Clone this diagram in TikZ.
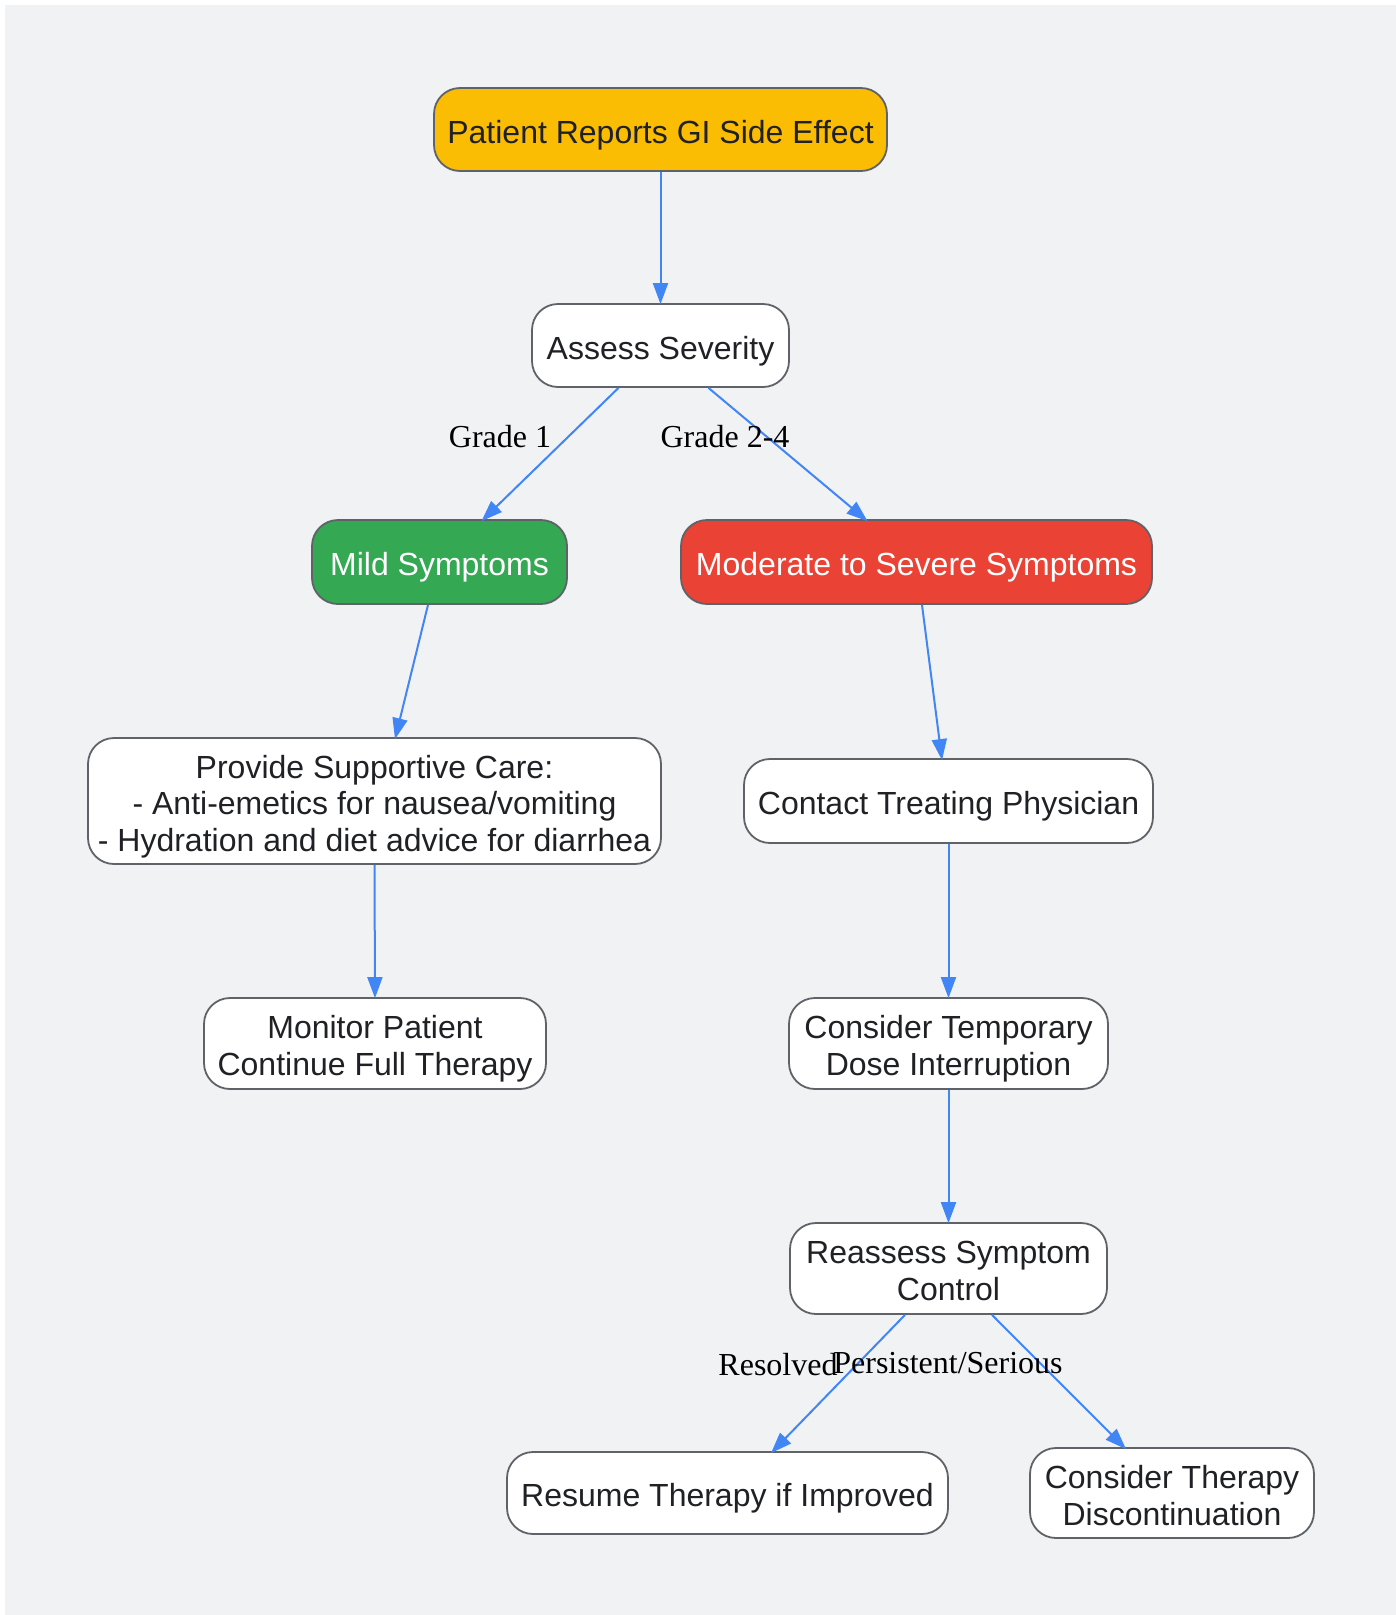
\documentclass[tikz,border=0pt]{standalone}
\usepackage{fontspec}
\setmainfont{Liberation Sans}
\newfontfamily\labelfont{Liberation Serif}
\usetikzlibrary{arrows.meta}
\definecolor{bg}{HTML}{F1F2F4}
\definecolor{bord}{HTML}{5F6368}
\definecolor{txt}{HTML}{202124}
\definecolor{ylw}{HTML}{FBBC04}
\definecolor{grn}{HTML}{34A853}
\definecolor{rd}{HTML}{EA4335}
\definecolor{arrblue}{HTML}{4285F4}
\newcommand\tline[1]{\rule[-4.6pt]{0pt}{36.6pt}\smash{#1}}
\lineskiplimit=-10pt
\tikzset{
  box/.style={draw=bord, line width=1.8pt, rounded corners=26pt, fill=white,
    text=txt, align=center, inner sep=0pt,
    font=\fontsize{32}{36.6}\selectfont},
  arr/.style={draw=arrblue, line width=2pt, -{Triangle[length=21pt,width=15pt]}},
  elabel/.style={font=\labelfont\fontsize{32}{36}\selectfont, text=black, inner sep=0pt}
}
\begin{document}
\begin{tikzpicture}[x=1pt,y=-1pt]
\useasboundingbox (0,0) rectangle (1396,1615);
\fill[bg] (5,5) rectangle (1396,1615);

\node[box, fill=ylw, minimum width=453pt, minimum height=83pt] (start) at (660.5,129.5) {\tline{Patient Reports GI Side Effect}};
\node[box, minimum width=257pt, minimum height=83pt] (as) at (660.5,345.5) {\tline{Assess Severity}};
\node[box, fill=grn, text=white, minimum width=255pt, minimum height=84pt] (mild) at (439.5,562) {\tline{Mild Symptoms}};
\node[box, fill=rd, text=white, minimum width=471pt, minimum height=84pt] (mod) at (916.5,562) {\tline{Moderate to Severe Symptoms}};
\node[box, minimum width=573pt, minimum height=126pt] (care) at (374.5,801) {\tline{Provide Supportive Care:}\\\tline{- Anti-emetics for nausea/vomiting}\\\tline{- Hydration and diet advice for diarrhea}};
\node[box, minimum width=409pt, minimum height=84pt] (phys) at (948.5,801) {\tline{Contact Treating Physician}};
\node[box, minimum width=342pt, minimum height=91pt] (mon) at (375,1043.5) {\tline{Monitor Patient}\\\tline{Continue Full Therapy}};
\node[box, minimum width=319pt, minimum height=91pt] (temp) at (948.5,1043.5) {\tline{Consider Temporary}\\\tline{Dose Interruption}};
\node[box, minimum width=317pt, minimum height=91pt] (reas) at (948.5,1268.5) {\tline{Reassess Symptom}\\\tline{Control}};
\node[box, minimum width=441pt, minimum height=82pt] (res) at (727.5,1493) {\tline{Resume Therapy if Improved}};
\node[box, minimum width=284pt, minimum height=90pt] (disc) at (1172,1493) {\tline{Consider Therapy}\\\tline{Discontinuation}};

\draw[arr] (start.south) -- ([yshift=-1pt]as.north);
\draw[arr] ([xshift=-42pt]as.south) -- ([xshift=42pt,yshift=-2pt]mild.north);
\draw[arr] ([xshift=48pt]as.south) -- ([xshift=-49pt,yshift=-2pt]mod.north);
\draw[arr] ([xshift=-11.5pt]mild.south) -- ([xshift=20.5pt,yshift=-2pt]care.north);
\draw[arr] ([xshift=5.5pt]mod.south) -- ([xshift=-6.5pt,yshift=-2pt]phys.north);
\draw[arr] (care.south) -- ([yshift=-1pt]mon.north);
\draw[arr] (phys.south) -- ([yshift=-1pt]temp.north);
\draw[arr] (temp.south) -- ([yshift=-1pt]reas.north);
\draw[arr] ([xshift=-43.5pt]reas.south) -- ([xshift=43.5pt,yshift=-2pt]res.north);
\draw[arr] ([xshift=43.5pt]reas.south) -- ([xshift=-46pt,yshift=-2pt]disc.north);

\node[elabel] (l1) at (500,437) {Grade 1};
\node[elabel] (l2) at (725,437) {Grade 2-4};
\node[elabel] (l3) at (778,1365) {Resolved};
\node[elabel] (l4) at (948,1363) {Persistent/Serious};
\end{tikzpicture}
\end{document}
